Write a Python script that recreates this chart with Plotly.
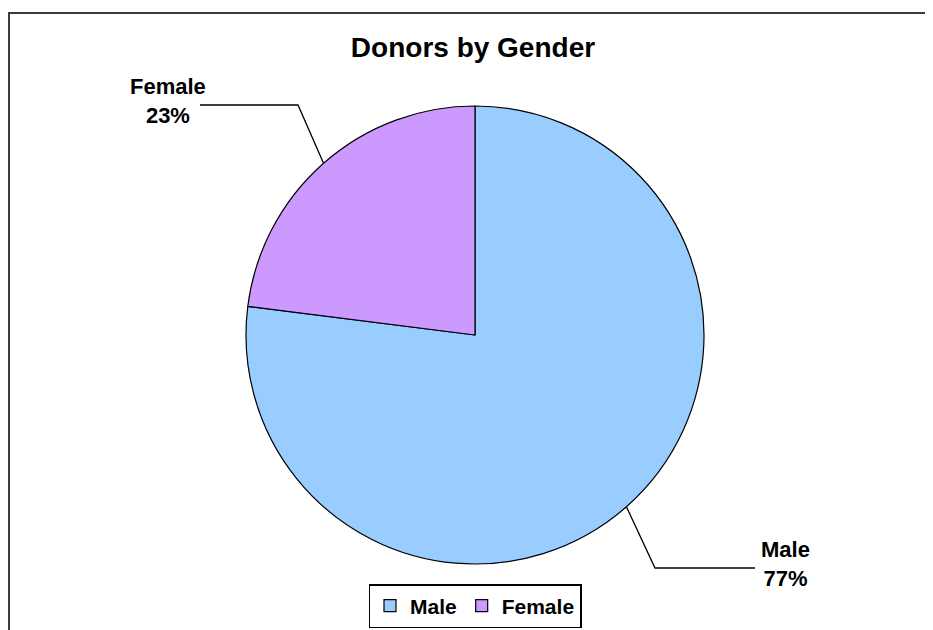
import math
import plotly.graph_objects as go

title_text = "Donors by Gender"
categories = ["Male", "Female"]
values = [77, 23]
colors = ["#99CCFF", "#CC99FF"]

W, H = 933, 630
OFF = 8  # page body margin in the browser
cx, cy, R = 475, 335, 229  # pie centre / radius in window pixels

def px(x):
    return (x - OFF) / W

def py(y):
    return 1 - (y - OFF) / H

fig = go.Figure()
fig.add_trace(go.Pie(
    labels=categories,
    values=values,
    sort=False,
    direction="clockwise",
    rotation=0,
    marker=dict(colors=colors, line=dict(color="black", width=1.2)),
    textinfo="none",
    hoverinfo="label+percent",
    domain=dict(x=[px(cx - R), px(cx + R)], y=[py(cy + R), py(cy - R)]),
))

total = sum(values)
FONT = "Liberation Sans, Arial, sans-serif"
font_lbl = dict(family=FONT, size=22, color="black", weight="bold")
annotations = []
shapes = []
start = 0.0
label_cfg = {
    "Male": dict(elbow=(655, 568), end=(755, 568), text=(785, 564)),
    "Female": dict(elbow=(298, 105), end=(200, 105), text=(168, 101)),
}
for cat, v in zip(categories, values):
    frac = v / total
    mid = (start + frac / 2) * 2 * math.pi
    start += frac
    ex = cx + R * math.sin(mid)
    ey = cy - R * math.cos(mid)
    cfg = label_cfg[cat]
    path = "M {} {} L {} {} L {} {}".format(
        px(ex), py(ey), px(cfg["elbow"][0]), py(cfg["elbow"][1]),
        px(cfg["end"][0]), py(cfg["end"][1]))
    shapes.append(dict(type="path", xref="paper", yref="paper", path=path,
                       line=dict(color="black", width=1.3)))
    annotations.append(dict(
        xref="paper", yref="paper", x=px(cfg["text"][0]), y=py(cfg["text"][1]),
        xanchor="center", yanchor="middle", showarrow=False,
        text="{}<br>{}%".format(cat, round(frac * 100)), font=font_lbl, align="center"))

# outer chart frame (extends beyond the visible window)
shapes.append(dict(type="rect", xref="paper", yref="paper",
                   x0=px(9), x1=px(W + 40), y0=py(H + 40), y1=py(13),
                   line=dict(color="#3a3a3a", width=2), fillcolor="rgba(0,0,0,0)"))

fig.update_layout(
    width=W, height=H,
    margin=dict(l=0, r=0, t=0, b=0),
    paper_bgcolor="white",
    plot_bgcolor="white",
    title=dict(text=title_text, x=px(473), xanchor="center", y=py(47), yanchor="middle",
               xref="paper", yref="paper",
               font=dict(family=FONT, size=28, color="black", weight="bold")),
    legend=dict(orientation="h", x=px(475), xanchor="center", y=py(606), yanchor="middle",
                bordercolor="black", borderwidth=1.5, bgcolor="white",
                font=dict(family=FONT, size=21, color="black", weight="bold"),
                itemwidth=30, traceorder="normal"),
    shapes=shapes,
    annotations=annotations,
)

fig.write_html("out.html")
